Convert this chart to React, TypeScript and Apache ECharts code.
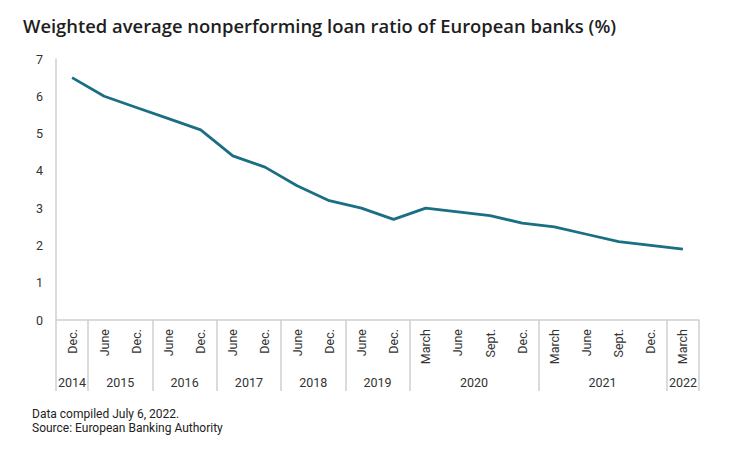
import React, { useEffect, useRef } from "react";
import * as echarts from "echarts";

const months = ["Dec.", "June", "Dec.", "June", "Dec.", "June", "Dec.", "June", "Dec.", "June", "Dec.", "March", "June", "Sept.", "Dec.", "March", "June", "Sept.", "Dec.", "March"];
const values = [6.5, 6.0, 5.7, 5.4, 5.1, 4.4, 4.1, 3.6, 3.2, 3.0, 2.7, 3.0, 2.9, 2.8, 2.6, 2.5, 2.3, 2.1, 2.0, 1.9];
const years = ["2014", "2015", "2016", "2017", "2018", "2019", "2020", "2021", "2022"];
const yearCounts = [1, 2, 2, 2, 2, 2, 4, 4, 1];
const yTicks = [0, 1, 2, 3, 4, 5, 6, 7];

const title = "Weighted average nonperforming loan ratio of European banks (%)";
const notes = ["Data compiled July 6, 2022.", "Source: European Banking Authority"];

export default function App() {
  const ref = useRef<HTMLDivElement>(null);
  useEffect(() => {
    document.body.style.margin = "0";
    const chart = echarts.init(ref.current!, null, { renderer: "svg" });
    const starts: number[] = [];
    const mids: Record<string, string> = {};
    let acc = 0;
    years.forEach((y, i) => {
      starts.push(acc);
      mids[String(acc + yearCounts[i] / 2)] = y;
      acc += yearCounts[i];
    });
    const total = acc;
    const font = "Roboto";
    chart.setOption({
      animation: false,
      backgroundColor: "#ffffff",
      title: {
        text: title,
        left: 23,
        top: 16,
        padding: 0,
        textStyle: { fontFamily: "Open Sans", fontSize: 18.4, fontWeight: 600, color: "#1e1e1e" },
      },
      graphic: notes.map((t, i) => ({
        type: "text",
        left: 32,
        top: 408 + i * 14,
        style: { text: t, font: `12px ${font}`, fill: "#222" },
      })),
      grid: { left: 56, right: 41, top: 59, bottom: 129 },
      xAxis: [
        {
          type: "category",
          data: months,
          boundaryGap: true,
          axisLine: { show: true, lineStyle: { color: "#cfcfcf", width: 1.5 } },
          axisTick: {
            show: true,
            length: 71,
            interval: (idx: number) => starts.includes(idx) || idx === total,
            lineStyle: { color: "#cfcfcf", width: 1.5 },
          },
          axisLabel: {
            rotate: 90,
            interval: 0,
            margin: 9,
            fontFamily: font,
            fontSize: 12.5,
            color: "#333",
          },
        },
        {
          type: "value",
          min: 0,
          max: total,
          interval: 0.5,
          position: "bottom",
          axisLine: { show: false },
          axisTick: { show: false },
          splitLine: { show: false },
          axisLabel: {
            margin: 56,
            fontFamily: font,
            fontSize: 12.5,
            color: "#333",
            showMinLabel: true,
            showMaxLabel: true,
            formatter: (v: number) => mids[String(v)] ?? "",
          },
        },
      ],
      yAxis: {
        type: "value",
        min: yTicks[0],
        max: yTicks[yTicks.length - 1],
        interval: 1,
        axisLine: { show: true, lineStyle: { color: "#cfcfcf", width: 1.5 } },
        axisTick: { show: false },
        splitLine: { show: false },
        axisLabel: { margin: 13, fontFamily: font, fontSize: 12.5, color: "#333" },
      },
      series: [
        {
          type: "line",
          xAxisIndex: 0,
          data: values,
          symbol: "none",
          lineStyle: { color: "#1b6f84", width: 2.8 },
        },
      ],
    });
    return () => chart.dispose();
  }, []);
  return <div ref={ref} style={{ width: 740, height: 449 }} />;
}
